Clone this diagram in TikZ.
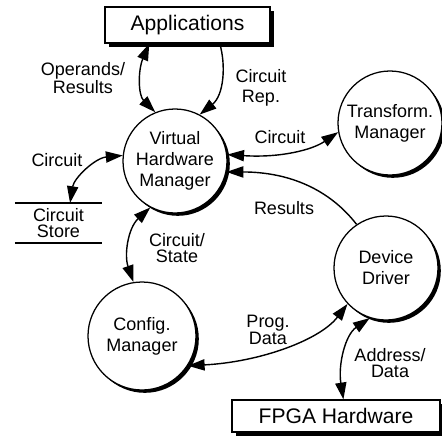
\documentclass[tikz,border=0pt]{standalone}
\usepackage{fontspec}
\setmainfont{Liberation Sans}
\usetikzlibrary{arrows.meta,shadows}

\begin{document}
\begin{tikzpicture}[x=0.25mm,y=-0.25mm,
  proc/.style={circle, draw, line width=0.9pt, fill=white, minimum size=26mm,
    inner sep=0pt, align=center, font=\fontsize{12.8}{15}\selectfont,
    drop shadow={shadow xshift=2pt, shadow yshift=-2pt, fill=black, opacity=1}},
  ext/.style={rectangle, draw, line width=0.9pt, fill=white, inner sep=0pt,
    font=\fontsize{15}{18}\selectfont,
    drop shadow={shadow xshift=2.5pt, shadow yshift=-2.5pt, fill=black, opacity=1}},
  lbl/.style={align=center, inner sep=0pt, font=\fontsize{12.8}{11.5}\selectfont},
  flow/.style={line width=1pt, -{Triangle[length=4.2mm,width=2.8mm]}},
  biflow/.style={line width=1pt, {Triangle[length=4.2mm,width=2.8mm]}-{Triangle[length=4.2mm,width=2.8mm]}}]
\useasboundingbox (0,0) rectangle (442,438);
\node[ext, minimum width=41.25mm, minimum height=9mm] (apps) at (187.5,25) {Applications};
\node[proc] (vhm) at (175,161) {Virtual\\Hardware\\Manager};
\node[proc] (xform) at (390,123) {Transform.\\Manager};
\node[proc] (drv) at (386,268) {Device\\Driver};
\node[proc, minimum size=27mm] (cfg) at (142,336) {Config.\\Manager};
\node[ext, minimum width=52mm, minimum height=8mm] (fpga) at (336,416) {FPGA Hardware};
\node[lbl, minimum width=21.75mm, minimum height=10mm, outer sep=0pt] (store) at (58.5,223) {Circuit\\Store};
\draw[line width=0.9pt] (store.north west) -- (store.north east)
  (store.south west) -- (store.south east);
% labels
\node[lbl, font=\fontsize{12.8}{9.5}\selectfont] (lops) at (83,78) {Operands/\\Results};
\node[lbl, font=\fontsize{12.8}{14}\selectfont] (lrep) at (261,88) {Circuit\\Rep.};
\node[lbl] (lcx) at (280,137) {Circuit};
\node[lbl] (lres) at (284,208) {Results};
\node[lbl] (lcs) at (57,160) {Circuit};
\node[lbl] (lst) at (177,248) {Circuit/\\State};
\node[lbl, font=\fontsize{12.8}{10}\selectfont] (lprog) at (268,330) {Prog.\\Data};
\node[lbl, font=\fontsize{12.8}{12}\selectfont] (laddr) at (390,363) {Address/\\Data};
% flows
\draw[biflow] (apps.-154) .. controls (138,70) and (138,95) .. (vhm.112);
\draw[flow] (apps.-30) .. controls (226,65) and (224,95) .. (vhm.62);
\draw[biflow] (vhm.7) .. controls (280,158) and (312,150) .. (xform.190);
\draw[flow] (drv.124) .. controls (330,190) and (290,172) .. (vhm.-12);
\draw[biflow] (vhm.174) .. controls (95,158) and (74,178) .. (store.60);
\draw[biflow] (vhm.-118) .. controls (128,228) and (124,255) .. (cfg.99);
\draw[biflow] (cfg.-33) .. controls (260,362) and (320,340) .. (drv.223);
\draw[biflow] (drv.-108) .. controls (345,335) and (338,365) .. (fpga.66);
\end{tikzpicture}
\end{document}
